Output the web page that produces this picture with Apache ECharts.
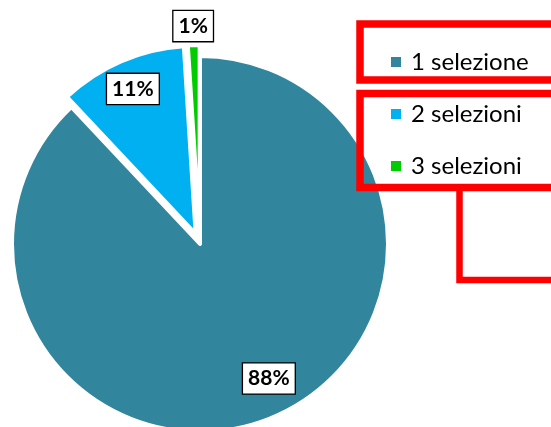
<!DOCTYPE html>
<html>
<head>
<meta charset="utf-8">
<style>
  html, body { margin: 0; padding: 0; background: #ffffff; }
  #chart { width: 551px; height: 427px; }
</style>
<script src="https://cdn.jsdelivr.net/npm/echarts@6/dist/echarts.min.js"></script>
</head>
<body>
<div id="chart"></div>
<script>
// Shares of answers by number of selections
const categories = ['1 selezione', '2 selezioni', '3 selezioni'];
const shares = [88, 11, 1];
const colors = ['#31859C', '#00B0F0', '#00CC00'];
// slices pulled out of the pie
const exploded = [false, true, true];
// radial distance of each percentage label from the pie centre
const labelDistance = [146, 166, 215];
// small nudges of the label boxes off their slice's mid-angle
const labelNudge = [[14, -4], [0, 0], [0, 0]];

const CENTER = [200, 244];
const RADIUS = 188;
const FONT = 'Lato, "Liberation Sans", sans-serif';

const pieData = categories.map((name, i) => ({
  name: name,
  value: shares[i],
  selected: exploded[i],
  itemStyle: { color: colors[i] }
}));

// One transparent ring per label: its 'inside' label sits at half its outer radius
const labelSeries = categories.map((name, k) => ({
  type: 'pie',
  silent: true,
  center: CENTER,
  radius: [0, labelDistance[k] * 2],
  startAngle: 90,
  clockwise: true,
  percentPrecision: 0,
  animation: false,
  itemStyle: { color: 'rgba(0,0,0,0)', borderWidth: 0 },
  emphasis: { disabled: true },
  labelLine: { show: false },
  z: 5,
  data: categories.map((n, i) => ({
    name: n,
    value: shares[i],
    label: {
      show: i === k,
      position: 'inside',
      formatter: '{d}%',
      offset: labelNudge[i],
      color: '#000000',
      fontFamily: FONT,
      fontWeight: 'bold',
      fontSize: 21,
      lineHeight: 21,
      backgroundColor: '#ffffff',
      borderColor: '#000000',
      borderWidth: 1.3,
      padding: [5, 5, 4, 5]
    }
  }))
}));

const chart = echarts.init(document.getElementById('chart'), null, { renderer: 'canvas' });

chart.setOption({
  animation: false,
  backgroundColor: '#ffffff',
  legend: {
    data: categories,
    orient: 'vertical',
    left: 389,
    top: 50,
    padding: 0,
    icon: 'rect',
    itemWidth: 12,
    itemHeight: 12,
    itemGap: 28,
    selectedMode: false,
    textStyle: {
      fontFamily: FONT,
      fontSize: 24,
      lineHeight: 24,
      color: '#000000',
      padding: [0, 0, 0, 4]
    }
  },
  series: [
    {
      type: 'pie',
      name: 'selezioni',
      center: CENTER,
      radius: RADIUS,
      startAngle: 90,
      clockwise: true,
      selectedMode: 'multiple',
      selectedOffset: 11,
      animation: false,
      label: { show: false },
      labelLine: { show: false },
      itemStyle: { borderColor: '#ffffff', borderWidth: 4 },
      emphasis: { disabled: true },
      data: pieData
    }
  ].concat(labelSeries),
  graphic: [
    {
      type: 'rect', z: 100, silent: true,
      shape: { x: 360, y: 24, width: 260, height: 56 },
      style: { fill: null, stroke: '#ff0000', lineWidth: 7.5 }
    },
    {
      type: 'rect', z: 100, silent: true,
      shape: { x: 360, y: 93.5, width: 260, height: 94 },
      style: { fill: null, stroke: '#ff0000', lineWidth: 7.5 }
    },
    {
      type: 'rect', z: 100, silent: true,
      shape: { x: 459.5, y: 187.5, width: 160, height: 92.5 },
      style: { fill: null, stroke: '#ff0000', lineWidth: 6.5 }
    }
  ]
});
</script>
</body>
</html>
